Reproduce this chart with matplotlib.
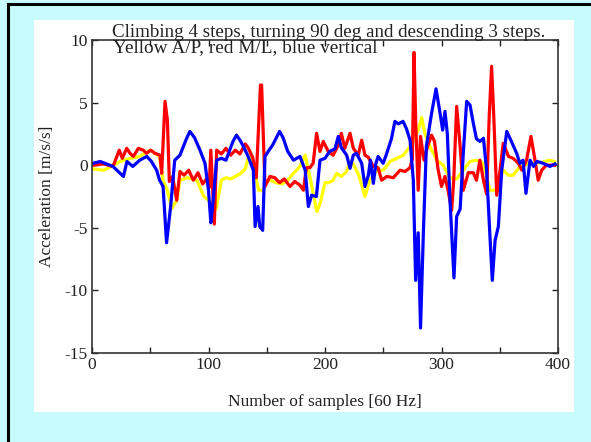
import matplotlib
matplotlib.use("Agg")
import matplotlib.pyplot as plt
from matplotlib.lines import Line2D
from matplotlib.patches import Rectangle

# ---- data ----
blue_x = [1, 7, 18, 27, 30, 35, 41, 47, 51, 55.5, 58, 61, 64, 67.5, 71, 75.5, 81, 84, 88, 92.7,
          97, 100, 102, 103.5, 107, 111, 115, 121, 124, 127, 130, 134, 138.5, 140, 142.5, 144, 146.5,
          148.5, 152, 155, 161, 164, 168, 173, 178.5, 183, 185.7, 188.5, 192.6, 195.7, 200, 204,
          208.5, 211.4, 214, 218.6, 221.5, 224.3, 227, 231.5, 234.3, 237.2, 239, 241.5, 243.7,
          245.6, 249.9, 253, 257, 260, 263, 267, 270, 273, 275.8, 277.8, 280, 282, 284.5, 287,
          291.5, 295.3, 298, 301, 303, 305, 307.3, 310.7, 313, 316, 318.7, 321.6, 324.5, 327.3,
          330, 333, 336, 338.7, 341.6, 343.6, 346, 348.8, 351.7, 356, 360, 364.5, 367.3, 370,
          372.5, 376, 379, 382, 387.4, 393, 397.4]
blue_y = [0.15, 0.3, -0.1, -0.9, 0.3, -0.1, 0.4, 0.7, 0.3, -0.4, -1.2, -1.7, -6.2, -3.3, 0.4, 0.8,
          2.1, 2.7, 2.2, 1.2, 0.15, -2.0, -4.6, -3.3, 0.4, 0.55, 0.4, 1.9, 2.4, 2.0, 1.5, 0.7, -0.4,
          -4.9, -3.3, -4.9, -5.2, 0.7, 1.2, 1.6, 2.7, 2.2, 1.1, 0.4, 0.7, -0.4, -3.3, -2.4, -2.5,
          0.4, 0.55, 1.1, 1.3, 2.3, 1.4, 0.8, -0.25, 0.8, 0.95, 0.15, -1.7, -0.8, 0.4, -1.45, 0.15,
          0.7, 0.15, 0.95, 2.1, 3.5, 3.3, 3.5, 2.9, 2.0, -1.2, -9.2, -5.4, -13.0, -5.2, 1.5, 4.15,
          6.1, 4.6, 2.8, 4.3, 2.5, -2.8, -9.0, -4.1, -3.5, 0.95, 5.1, 4.8, 3.35, 2.1, 1.9, 2.15,
          -0.4, -5.7, -9.2, -6.0, -4.9, -0.4, 2.7, 1.9, 0.95, 0.15, 0.4, -2.25, 0.4, -0.1, 0.3,
          0.15, -0.1, 0.1]

red_x = [1, 10, 18, 19.7, 23.4, 26, 29.8, 32.6, 35.5, 39.8, 44, 46.8, 50.4, 54, 58.3, 59.8, 62.7,
         64.7, 66.4, 69.2, 72.7, 75.5, 79, 83, 87, 91, 95, 99, 100.5, 102, 105, 107, 111, 115, 119,
         123, 127, 131.5, 134, 138, 141, 144.6, 145.6, 148.5, 152.8, 157, 161, 165, 170, 174, 178.5,
         181.5, 184, 187, 189.8, 192.8, 195.7, 198.5, 202.8, 207, 211.4, 214, 217, 221.5, 224.3,
         228.5, 231.5, 234.3, 237, 241.5, 245.6, 248.6, 253, 258.7, 264.4, 268.7, 273, 275,
         276.4, 278, 280, 282, 285, 288, 291.5, 294, 297, 300, 303, 305.6, 308.7, 310.5, 313, 316,
         318.7, 323, 327.3, 330, 333, 336, 338.7, 341, 343, 345, 347.4, 350, 353, 357.5, 361.5,
         366, 369, 373, 376.8, 380, 383, 386, 390, 397]
red_y = [0.0, 0.1, -0.1, 0.3, 1.2, 0.55, 1.35, 0.95, 0.7, 1.35, 1.2, 0.95, 1.2, 0.95, 0.8, -0.65,
         5.1, 3.6, -1.3, -0.9, -2.8, -0.5, -0.8, -0.4, -1.2, -0.6, -1.5, -1.0, -1.8, 1.2, -4.7, 1.2,
         0.9, 1.35, 0.8, 1.2, 0.9, 1.7, 1.4, 0.6, -1.0, 6.4, 6.4, -1.7, -0.9, -1.0, -1.4, -1.1,
         -1.7, -1.3, -1.6, -2.0, -0.2, -0.2, 0.15, 2.55, 1.1, 1.9, 1.1, 0.8, 1.6, 2.55, 1.35, 2.55,
         1.35, 0.8, 2.0, 0.8, 0.65, -0.1, -0.2, -1.2, -0.9, -1.0, -0.4, -0.5, -0.2, 0.5, 9.0,
         3.0, -2.0, 2.3, 0.4, 1.5, 2.4, 1.9, -0.3, -1.7, -0.9, -2.0, -3.6, -1.2, 4.7, 1.5, -2.0,
         -0.6, -0.6, -1.2, 0.4, -1.2, -2.3, 4.0, 7.9, 3.6, -2.4, -0.6, 1.75, 0.7, 0.55, 0.15,
         -0.4, 0.4, 2.3, 0.55, -1.2, -0.4, 0.0, 0.0]

yellow_x = [1, 10, 19, 24, 33, 41, 50, 54, 58, 61, 64.7, 68.4, 72.7, 75.5, 82, 90, 96, 100, 103,
            106.6, 111, 115, 119, 123, 127, 131.5, 134.5, 138, 143, 147, 149, 153, 158, 163, 168,
            173, 178.5, 183, 186, 190, 193, 196, 200, 203, 207, 210, 214, 218.6, 221.5, 224, 229,
            234.3, 238.5, 244.6, 250, 256, 261.6, 267.3, 273, 280, 283, 285.5, 290, 296, 301.5,
            307, 313, 318.7, 324.4, 330, 336, 341.6, 347.4, 353, 357.5, 361.5, 367.3, 376, 384.6,
            393, 397]
yellow_y = [-0.3, -0.4, 0.0, 0.3, 0.55, 0.7, 1.2, 0.95, 0.7, -1.2, -2.0, -3.45, -2.8, -1.2, -1.0,
            -1.2, -2.5, -2.8, -3.0, -3.5, -1.2, -1.0, -1.1, -0.9, -0.7, -0.3, 0.7, 0.2, -2.0, -2.0,
            -1.4, -1.2, -1.4, -1.5, -1.2, -0.65, -0.1, 0.8, -0.5, -2.3, -3.7, -3.0, -1.4, -1.4,
            -1.2, -0.65, -0.9, -0.5, 0.3, 0.15, -0.8, -2.5, -1.2, -0.4, -0.4, 0.3, 0.55, 0.8, 1.5,
            2.8, 3.8, 2.6, 1.5, 0.4, 0.0, -1.0, -1.1, -0.4, 0.3, 0.4, 0.15, -2.0, -2.0, -0.4,
            -0.8, -0.8, -0.1, 0.15, 0.2, 0.4, 0.3]

x_ticks = [0, 50, 100, 150, 200, 250, 300, 350, 400]
x_labels = ["0", "", "100", "", "200", "", "300", "", "400"]
y_ticks = [-15, -10, -5, 0, 5, 10]
y_labels = ["-15", "-10", "-5", "0", "5", "10"]

title1 = "Climbing 4 steps, turning 90 deg and descending 3 steps."
title2 = "Yellow A/P, red M/L, blue vertical"

# ---- figure ----
plt.rcParams["font.family"] = ["Liberation Serif", "DejaVu Serif"]
fig = plt.figure(figsize=(5.91, 4.42), dpi=100)
fig.patch.set_facecolor("#C8FCFC")

# white panel
fig.patches.append(Rectangle((34 / 591, 1 - 412 / 442), 540 / 591, 392 / 442,
                             transform=fig.transFigure, facecolor="white",
                             edgecolor="none", zorder=-2))
# black border lines (left and top)
fig.lines.append(Line2D([8 / 591, 8 / 591], [0, 1 - 4 / 442], transform=fig.transFigure,
                        color="black", linewidth=2.2, zorder=-1))
fig.lines.append(Line2D([8 / 591, 1], [1 - 4 / 442, 1 - 4 / 442], transform=fig.transFigure,
                        color="black", linewidth=2.2, zorder=-1))

ax = fig.add_axes([92 / 591, 1 - 353 / 442, 466 / 591, 313 / 442])
ax.set_zorder(1)
ax.set_facecolor("white")

lw = 2.3
ax.plot(yellow_x, yellow_y, color="#FFFF00", linewidth=lw)
ax.plot(red_x, red_y, color="#FF0000", linewidth=lw)
ax.plot(blue_x, blue_y, color="#0000FF", linewidth=lw)

ax.set_xlim(0, 400)
ax.set_ylim(-15, 10)
ax.set_xticks(x_ticks)
ax.set_xticklabels(x_labels)
ax.set_yticks(y_ticks)
ax.set_yticklabels(y_labels)
ax.tick_params(direction="in", length=4, width=1, top=True, right=True,
               labelsize=12.5, colors="#222222", pad=3)
for s in ax.spines.values():
    s.set_color("#333333")
    s.set_linewidth(1.2)

ax.set_xlabel("Number of samples [60 Hz]", fontsize=12.5, labelpad=15, color="#222222")
ax.set_ylabel("Acceleration [m/s/s]", fontsize=12.5, labelpad=7, color="#222222")

ax.text(0.043, 1.009, title1, transform=ax.transAxes, fontsize=13.7, ha="left",
        va="baseline", color="#222222")
ax.text(0.045, 0.960, title2, transform=ax.transAxes, fontsize=13.9, ha="left",
        va="baseline", color="#222222")

fig.savefig("out.png", dpi=100, facecolor=fig.get_facecolor())
